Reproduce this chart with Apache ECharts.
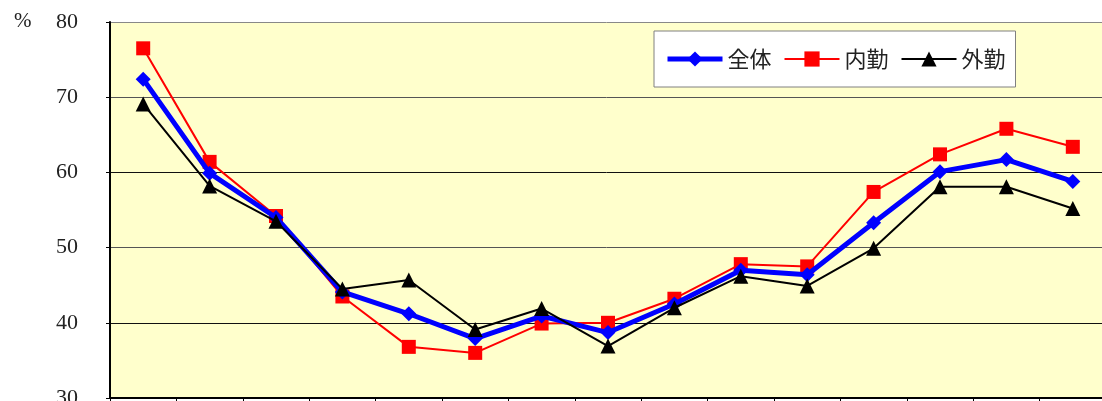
<!DOCTYPE html>
<html>
<head>
<meta charset="utf-8">
<script src="https://cdn.jsdelivr.net/npm/echarts@6/dist/echarts.min.js"></script>
<style>
html,body{margin:0;padding:0;background:#fff;}
#c{width:1102px;height:401px;}
</style>
</head>
<body>
<div id="c"></div>
<script>
var categories = ['1','2','3','4','5','6','7','8','9','10','11','12','13','14','15'];
var seriesNames = ['全体','内勤','外勤'];
var zentai = [72.4, 59.9, 54.0, 44.1, 41.2, 37.9, 40.9, 38.7, 42.5, 47.0, 46.4, 53.3, 60.1, 61.7, 58.8];
var naikin = [76.5, 61.4, 54.2, 43.5, 36.8, 36.0, 39.9, 40.0, 43.2, 47.8, 47.5, 57.4, 62.4, 65.8, 63.4];
var gaikin = [69.1, 58.2, 53.5, 44.5, 45.7, 39.1, 41.9, 36.9, 42.0, 46.2, 44.9, 49.9, 58.1, 58.1, 55.2];
var yTicks = [30, 40, 50, 60, 70, 80];

var chart = echarts.init(document.getElementById('c'));
chart.setOption({
  backgroundColor: '#ffffff',
  animation: false,
  title: {
    text: '%', left: 9, top: 6,
    textStyle: { fontFamily: 'Liberation Serif', fontSize: 21, fontWeight: 'normal', color: '#222' }
  },
  legend: {
    data: [
      { name: seriesNames[0], lineStyle: { width: 5 } },
      { name: seriesNames[1], lineStyle: { width: 2 } },
      { name: seriesNames[2], lineStyle: { width: 2 } }
    ],
    left: 654, top: 31,
    backgroundColor: '#ffffff',
    borderColor: '#808080', borderWidth: 1,
    padding: [17, 10, 17, 11],
    itemWidth: 55, itemHeight: 19, itemGap: 12,
    textStyle: { fontFamily: 'Noto Sans CJK JP', fontSize: 22, color: '#222' }
  },
  grid: { left: 110, right: -4, top: 22, bottom: 3, containLabel: false,
    outerBoundsMode: 'none',
    backgroundColor: '#FFFFCC', show: true, borderWidth: 0 },
  xAxis: {
    type: 'category', data: categories, boundaryGap: true,
    axisLine: { lineStyle: { color: '#000', width: 2 } },
    axisTick: { show: true, inside: false, length: 6, lineStyle: { color: '#000' } },
    axisLabel: { show: false },
    splitLine: { show: false }
  },
  yAxis: {
    type: 'value', min: yTicks[0], max: yTicks[yTicks.length - 1], interval: 10,
    axisLine: { show: true, lineStyle: { color: '#000', width: 2 } },
    axisTick: { show: true, length: 4, lineStyle: { color: '#000' } },
    axisLabel: { margin: 32, fontFamily: 'Liberation Serif', fontSize: 22, color: '#222' },
    splitLine: { show: true, lineStyle: { color: ['#000', '#111', '#555', '#111', '#555', '#888'], width: 1 } }
  },
  series: [
    {
      name: seriesNames[0], type: 'line', data: zentai, z: 4,
      symbol: 'diamond', symbolSize: 15,
      lineStyle: { color: '#0000FF', width: 5 },
      itemStyle: { color: '#0000FF' }
    },
    {
      name: seriesNames[1], type: 'line', data: naikin, z: 3,
      symbol: 'rect', symbolSize: 14,
      lineStyle: { color: '#FF0000', width: 2 },
      itemStyle: { color: '#FF0000' }
    },
    {
      name: seriesNames[2], type: 'line', data: gaikin, z: 5,
      symbol: 'triangle', symbolSize: 15,
      lineStyle: { color: '#000000', width: 2 },
      itemStyle: { color: '#000000' }
    }
  ]
});
</script>
</body>
</html>
